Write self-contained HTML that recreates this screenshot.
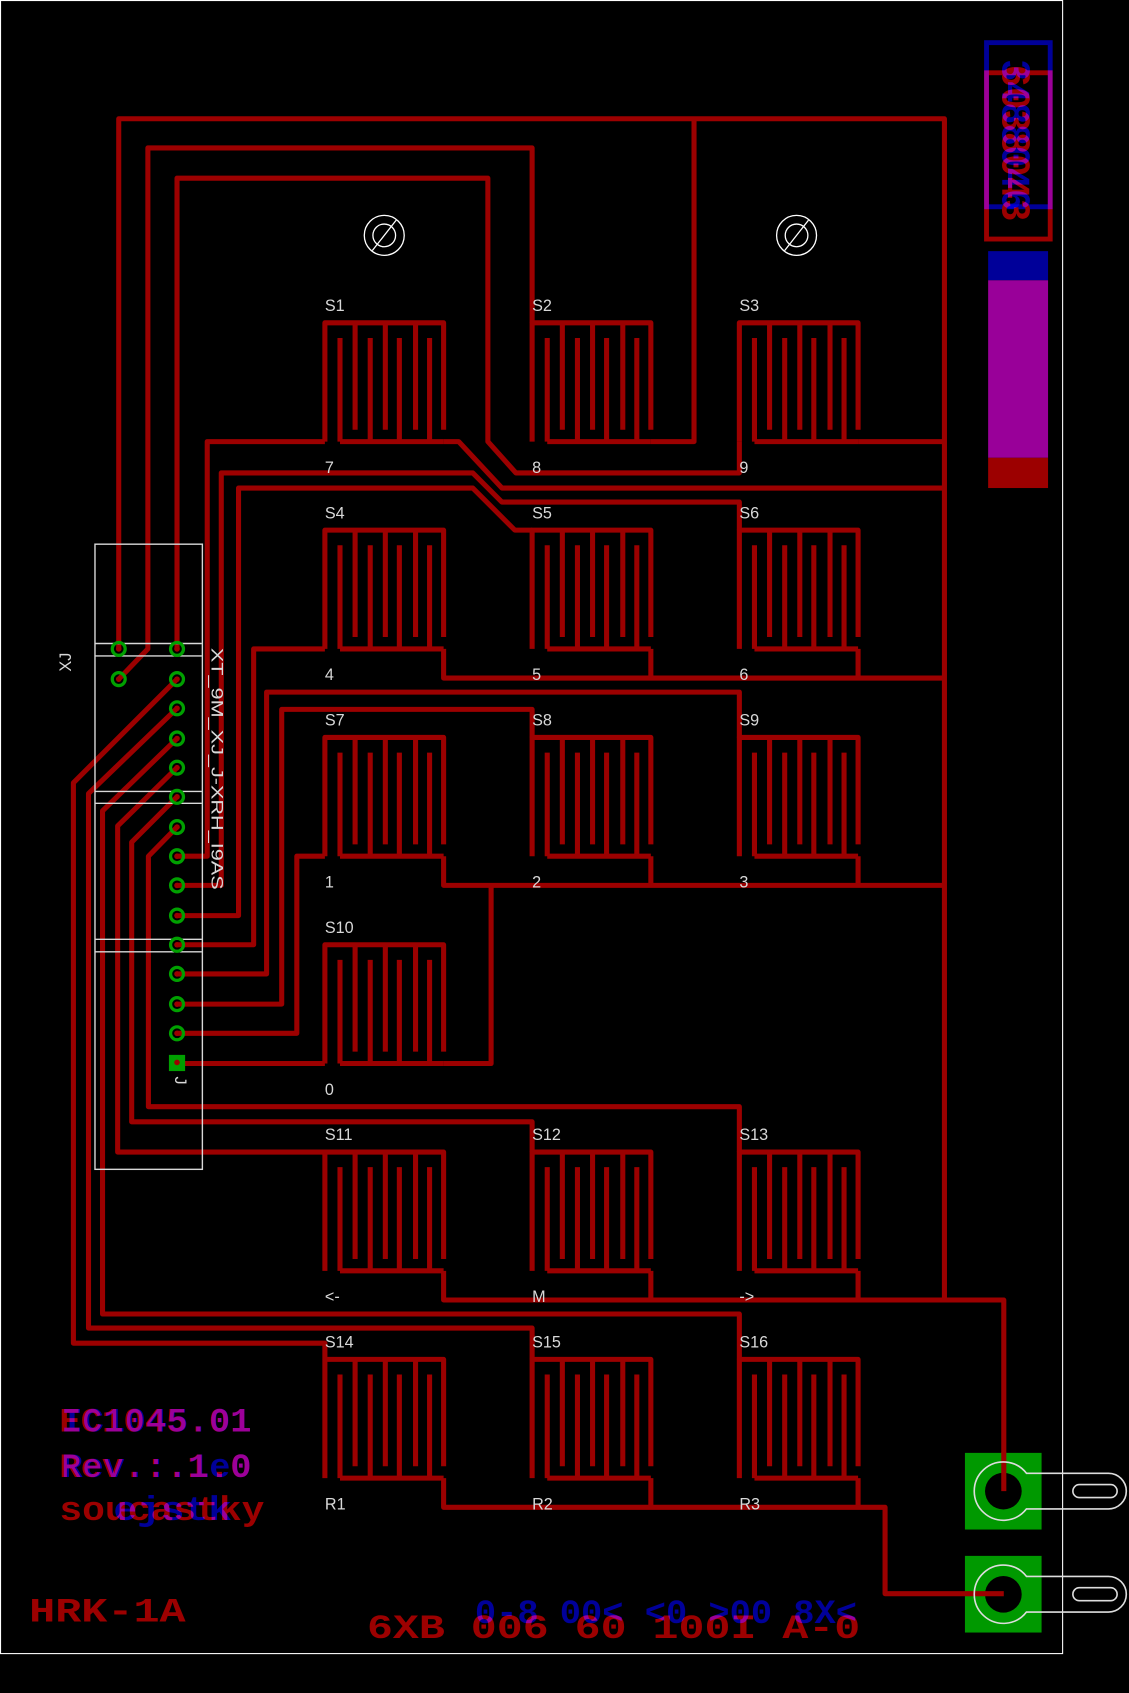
<!DOCTYPE html>
<html><head><meta charset="utf-8"><style>
html,body{margin:0;padding:0;background:#000;}
svg{display:block;}
.t{fill:#d8d8d8;font-family:"Liberation Sans",sans-serif;font-size:15px;}
.scr{mix-blend-mode:screen;}
</style></head><body>
<svg width="1129" height="1693" viewBox="0 0 1046 1568" preserveAspectRatio="none" xmlns="http://www.w3.org/2000/svg">
<rect width="1046" height="1568" fill="#000"/>
<rect x="0.5" y="0.5" width="984" height="1531" fill="none" stroke="#fff" stroke-width="1"/>
<defs>
<path id="sw" d="M0,110V0H110V99 M28,0V99 M56,0V99 M84,0V99 M14,110H110 M14,14V110 M42,14V110 M69,14V110 M97,14V110"/>
</defs>
<g fill="none" stroke="#9c0000" stroke-width="4.7" stroke-linejoin="round">
<use href="#sw" x="301" y="299"/><use href="#sw" x="493" y="299"/><use href="#sw" x="685" y="299"/>
<use href="#sw" x="301" y="491"/><use href="#sw" x="493" y="491"/><use href="#sw" x="685" y="491"/>
<use href="#sw" x="301" y="683"/><use href="#sw" x="493" y="683"/><use href="#sw" x="685" y="683"/>
<use href="#sw" x="301" y="875"/>
<use href="#sw" x="301" y="1067"/><use href="#sw" x="493" y="1067"/><use href="#sw" x="685" y="1067"/>
<use href="#sw" x="301" y="1259"/><use href="#sw" x="493" y="1259"/><use href="#sw" x="685" y="1259"/>
<path d="M110,601V110H875V1204"/>
<path d="M643,110V409H603"/>
<path d="M795,409H875"/>
<path d="M411,409H425L465,452H875"/>
<path d="M411,601V628H875 M603,601V628 M795,601V628"/>
<path d="M411,793V820H875 M603,793V820 M795,793V820"/>
<path d="M411,985H455V820"/>
<path d="M411,1177V1204H930V1381 M603,1177V1204 M795,1177V1204"/>
<path d="M411,1369V1396H820V1476H930 M603,1369V1396 M795,1369V1396"/>
<path d="M110,629L137,601V137H493V299"/>
<path d="M164,601V165H452V409L478,438H685V409"/>
<path d="M301,409H192V793H164"/>
<path d="M164,820H205V438H438L465,465H685V491"/>
<path d="M164,848H221V452H438L477,491H493"/>
<path d="M164,875H235V601H301"/>
<path d="M164,902H247V641H685V683"/>
<path d="M164,930H261V657H493V683"/>
<path d="M164,957H275V793H301"/>
<path d="M164,985H301"/>
<path d="M164,766L137.5,793V1025H685V1067"/>
<path d="M164,738L122,780V1039H493V1067"/>
<path d="M164,711L109,765V1067H301"/>
<path d="M164,684L95,751V1217H685V1259"/>
<path d="M164,656L82,735V1230H493V1259"/>
<path d="M164,629L68,725V1244H301V1259"/>
</g>
<!-- mounting holes -->
<g fill="none" stroke="#fff" stroke-width="1.2">
<circle cx="356" cy="218" r="18.5"/><circle cx="356" cy="218" r="10.5"/><line x1="345" y1="232" x2="367" y2="204"/>
<circle cx="738" cy="218" r="18.5"/><circle cx="738" cy="218" r="10.5"/><line x1="727" y1="232" x2="749" y2="204"/>
</g>
<!-- connector outline -->
<g fill="none" stroke="#d8d8d8" stroke-width="1.3">
<rect x="88" y="504" width="99.5" height="579"/>
<line x1="88" y1="596" x2="187" y2="596"/><line x1="88" y1="607.5" x2="187" y2="607.5"/>
<line x1="88" y1="733" x2="187" y2="733"/><line x1="88" y1="744" x2="187" y2="744"/>
<line x1="88" y1="870" x2="187" y2="870"/><line x1="88" y1="881.5" x2="187" y2="881.5"/>
</g>
<!-- pins -->
<g fill="none" stroke="#00a000" stroke-width="3">
<circle cx="110" cy="601" r="6"/><circle cx="110" cy="629" r="6"/>
<circle cx="164" cy="601" r="6"/><circle cx="164" cy="629" r="6"/><circle cx="164" cy="656" r="6"/>
<circle cx="164" cy="684" r="6"/><circle cx="164" cy="711" r="6"/><circle cx="164" cy="738" r="6"/>
<circle cx="164" cy="766" r="6"/><circle cx="164" cy="793" r="6"/><circle cx="164" cy="820" r="6"/>
<circle cx="164" cy="848" r="6"/><circle cx="164" cy="875" r="6"/><circle cx="164" cy="902" r="6"/>
<circle cx="164" cy="930" r="6"/><circle cx="164" cy="957" r="6"/>
</g>
<rect x="156.5" y="977" width="15" height="15" fill="#00a000"/>
<g fill="#9c0000">
<circle cx="110" cy="601" r="2.6"/><circle cx="110" cy="629" r="2.6"/>
<circle cx="164" cy="601" r="2.6"/><circle cx="164" cy="629" r="2.6"/><circle cx="164" cy="656" r="2.6"/>
<circle cx="164" cy="684" r="2.6"/><circle cx="164" cy="711" r="2.6"/><circle cx="164" cy="738" r="2.6"/>
<circle cx="164" cy="766" r="2.6"/><circle cx="164" cy="793" r="2.6"/><circle cx="164" cy="820" r="2.6"/>
<circle cx="164" cy="848" r="2.6"/><circle cx="164" cy="875" r="2.6"/><circle cx="164" cy="902" r="2.6"/>
<circle cx="164" cy="930" r="2.6"/><circle cx="164" cy="957" r="2.6"/><circle cx="164" cy="984" r="2.6"/>
</g>
<text class="t" font-size="14" transform="translate(66,622) rotate(-90)">XJ</text>
<text class="t" font-size="14.5" transform="translate(196,600) rotate(90)" textLength="224" lengthAdjust="spacingAndGlyphs">XT_9M_XJ_J-XRH_I9AS</text>
<text class="t" font-size="13" transform="translate(162,997) rotate(90)">J</text>
<!-- switch labels -->
<g class="t">
<text x="301" y="288">S1</text><text x="493" y="288">S2</text><text x="685" y="288">S3</text>
<text x="301" y="480">S4</text><text x="493" y="480">S5</text><text x="685" y="480">S6</text>
<text x="301" y="672">S7</text><text x="493" y="672">S8</text><text x="685" y="672">S9</text>
<text x="301" y="864">S10</text>
<text x="301" y="1056">S11</text><text x="493" y="1056">S12</text><text x="685" y="1056">S13</text>
<text x="301" y="1248">S14</text><text x="493" y="1248">S15</text><text x="685" y="1248">S16</text>
<text x="301" y="438">7</text><text x="493" y="438">8</text><text x="685" y="438">9</text>
<text x="301" y="630">4</text><text x="493" y="630">5</text><text x="685" y="630">6</text>
<text x="301" y="822">1</text><text x="493" y="822">2</text><text x="685" y="822">3</text>
<text x="301" y="1014">0</text>
<text x="301" y="1206">&lt;-</text><text x="493" y="1206">M</text><text x="685" y="1206">-&gt;</text>
<text x="301" y="1398">R1</text><text x="493" y="1398">R2</text><text x="685" y="1398">R3</text>
</g>
<!-- top right -->
<rect x="914" y="67.4" width="59" height="154" fill="none" stroke="#9c0000" stroke-width="4.5"/>
<rect class="scr" x="914" y="39.5" width="59" height="152" fill="none" stroke="#000099" stroke-width="4.5"/>
<text transform="translate(929,60) rotate(90)" font-family="Liberation Mono,monospace" font-size="38" font-weight="bold" fill="#9c0000" textLength="145" lengthAdjust="spacingAndGlyphs">6038043</text>
<text class="scr" transform="translate(929,55) rotate(90)" font-family="Liberation Mono,monospace" font-size="38" font-weight="bold" fill="#000099" textLength="140" lengthAdjust="spacingAndGlyphs">3488046</text>
<rect x="915.5" y="232.6" width="55.5" height="27" fill="#000099"/>
<rect x="915.5" y="259.6" width="55.5" height="164.4" fill="#990099"/>
<rect x="915.5" y="424" width="55.5" height="28" fill="#9c0000"/>
<!-- pads -->
<rect x="894" y="1345.6" width="71" height="71" fill="#009900"/>
<rect x="894" y="1441" width="71" height="71" fill="#009900"/>
<circle cx="929.6" cy="1381" r="17" fill="#000"/>
<circle cx="929.6" cy="1476.6" r="17" fill="#000"/>
<g fill="none" stroke="#9c0000" stroke-width="4.7"><path d="M930,1345V1381 M894,1476H930"/></g>
<g fill="none" stroke="#ddd" stroke-width="1.5">
<path d="M951,1364.5H1027A16.5,16.5 0 0 1 1027,1397.5H951A27,27 0 1 1 951,1364.5Z"/>
<rect x="994" y="1375" width="41" height="12" rx="6"/>
<path d="M951,1460H1027A16.5,16.5 0 0 1 1027,1493H951A27,27 0 1 1 951,1460Z"/>
<rect x="994" y="1470.5" width="41" height="12" rx="6"/>
</g>
<!-- bottom left texts -->
<g font-family="Liberation Mono,monospace" font-size="32" font-weight="bold">
<text x="55" y="1326" fill="#9c0000" textLength="178" lengthAdjust="spacingAndGlyphs">EC1045.01</text>
<text class="scr" x="57" y="1326" fill="#000099" textLength="176" lengthAdjust="spacingAndGlyphs">IC1045.01</text>
<text x="55" y="1368" fill="#9c0000" textLength="178" lengthAdjust="spacingAndGlyphs">Rev.:.1.0</text>
<text class="scr" x="57" y="1368" fill="#000099" textLength="176" lengthAdjust="spacingAndGlyphs">Rev.:.1e0</text>
<text x="55" y="1408" fill="#9c0000" textLength="190" lengthAdjust="spacingAndGlyphs">soucastky</text>
<text class="scr" x="105" y="1408" fill="#000099" textLength="110" lengthAdjust="spacingAndGlyphs">ejstk</text>
<text x="27" y="1502" fill="#9c0000" textLength="145" lengthAdjust="spacingAndGlyphs">HRK-1A</text>
<text x="340" y="1517" fill="#9c0000" textLength="457" lengthAdjust="spacingAndGlyphs">6XB 006 60 100I A-0</text>
<text class="scr" x="440" y="1503" fill="#000099" textLength="354" lengthAdjust="spacingAndGlyphs">0-8 00&lt; &lt;0 &gt;00 8X&lt;</text>
</g>
</svg>
</body></html>
